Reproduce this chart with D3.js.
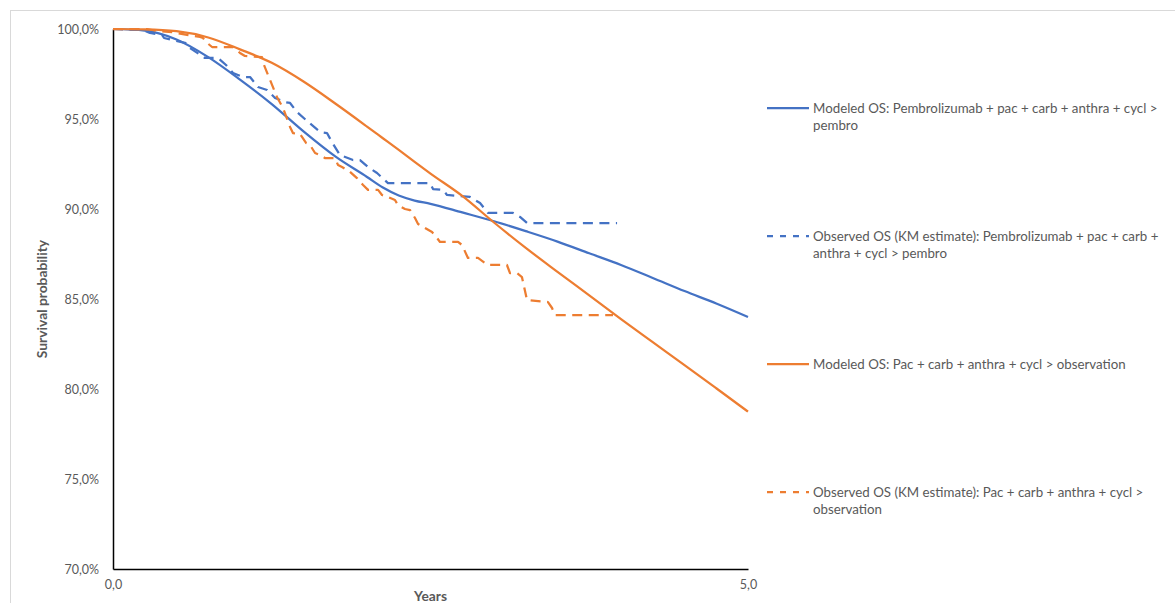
<!DOCTYPE html>
<html>
<head>
<meta charset="utf-8">
<script src="https://cdn.jsdelivr.net/npm/d3@7"></script>
<style>
  html, body { margin: 0; padding: 0; background: #ffffff; }
  svg { display: block; }
  text { font-family: Lato, "Noto Sans", sans-serif; fill: #595959; }
</style>
</head>
<body>
<svg id="chart" width="1175" height="603"></svg>
<script>
// Time axis (years) shared by the modeled curves
const modelYears = [0, 0.25, 0.5, 0.75, 1.0, 1.25, 1.5, 1.75, 2.0, 2.125, 2.25, 2.375, 2.5, 2.75,
  3.0, 3.25, 3.5, 3.75, 4.0, 4.25, 4.5, 4.75, 5.0];

// Modeled OS, pembrolizumab arm (%)
const modeledPembro = [100, 99.91, 99.42, 98.44, 97.19, 95.83, 94.31, 92.92, 91.78, 91.19, 90.75, 90.47,
  90.29, 89.81, 89.32, 88.77, 88.19, 87.54, 86.89, 86.17, 85.44, 84.75, 84.0];

// Modeled OS, observation arm (%)
const modeledObs = [100, 99.98, 99.88, 99.53, 98.87, 98.12, 97.08, 95.86, 94.58, 93.93, 93.28, 92.62,
  91.97, 90.73, 89.25, 87.84, 86.51, 85.2, 83.88, 82.6, 81.33, 80.04, 78.74];

// Observed OS (KM estimate), pembrolizumab arm
const kmPembroYears = [0, 0.236, 0.291, 0.386, 0.402, 0.575, 0.606, 0.724, 0.827, 0.890, 0.945, 1.024,
  1.079, 1.142, 1.213, 1.276, 1.354, 1.394, 1.449, 1.528, 1.630, 1.685, 1.724, 1.787, 1.890, 1.945,
  2.008, 2.079, 2.165, 2.496, 2.520, 2.598, 2.630, 2.811, 2.890, 2.953, 3.150, 3.205, 3.260, 3.969];
const kmPembro = [100, 99.94, 99.78, 99.67, 99.5, 99.22, 98.94, 98.39, 98.39, 98.0, 97.56, 97.33,
  97.33, 96.78, 96.61, 96.17, 95.94, 95.89, 95.39, 94.89, 94.28, 94.22, 93.72, 93.0, 92.72, 92.72,
  92.33, 92.0, 91.44, 91.44, 91.11, 91.06, 90.78, 90.67, 90.33, 89.78, 89.78, 89.56, 89.22, 89.22];

// Observed OS (KM estimate), observation arm
const kmObsYears = [0, 0.268, 0.346, 0.465, 0.583, 0.685, 0.709, 0.732, 0.780, 0.945, 1.000, 1.039,
  1.173, 1.189, 1.291, 1.339, 1.394, 1.417, 1.472, 1.520, 1.551, 1.591, 1.630, 1.669, 1.748, 1.772,
  1.803, 1.866, 1.921, 1.969, 2.008, 2.087, 2.118, 2.165, 2.220, 2.244, 2.299, 2.339, 2.378, 2.402,
  2.457, 2.512, 2.551, 2.575, 2.717, 2.748, 2.795, 2.874, 2.929, 2.953, 3.102, 3.126, 3.181, 3.220,
  3.260, 3.425, 3.457, 3.480, 3.937];
const kmObs = [100, 100, 99.89, 99.83, 99.67, 99.56, 99.5, 99.28, 99.0, 99.0, 98.67, 98.5,
  98.44, 98.0, 96.22, 95.61, 94.56, 94.22, 94.17, 93.67, 93.56, 93.11, 93.0, 92.83, 92.83, 92.44,
  92.33, 92.06, 91.72, 91.33, 91.06, 91.06, 90.78, 90.67, 90.5, 90.22, 90.0, 89.94, 89.5, 89.17,
  88.94, 88.72, 88.39, 88.17, 88.17, 88.0, 87.28, 87.28, 87.0, 86.89, 86.89, 86.44, 86.44, 86.22,
  84.94, 84.83, 84.5, 84.11, 84.11];

// Axis ticks
const yTicks = [70, 75, 80, 85, 90, 95, 100];
const xTicks = [0, 5];

// Legend entries (wrapped as laid out in the legend box)
const legendLines = [
  ["Modeled OS: Pembrolizumab + pac + carb + anthra + cycl >", "pembro"],
  ["Observed OS (KM estimate): Pembrolizumab + pac + carb +", "anthra + cycl > pembro"],
  ["Modeled OS: Pac + carb + anthra + cycl > observation"],
  ["Observed OS (KM estimate): Pac + carb + anthra + cycl >", "observation"]
];

const BLUE = "#4472C4";
const ORANGE = "#ED7D31";

const series = [
  { xs: modelYears, ys: modeledPembro, color: BLUE, dashed: false },
  { xs: kmPembroYears, ys: kmPembro, color: BLUE, dashed: true },
  { xs: modelYears, ys: modeledObs, color: ORANGE, dashed: false },
  { xs: kmObsYears, ys: kmObs, color: ORANGE, dashed: true }
];

const svg = d3.select("#chart");

// Chart area border
svg.append("rect")
  .attr("x", 10.5).attr("y", 10.5)
  .attr("width", 1200).attr("height", 700)
  .attr("fill", "none").attr("stroke", "#d9d9d9").attr("stroke-width", 1);

const x = d3.scaleLinear().domain([0, 5]).range([113, 748]);
const y = d3.scaleLinear().domain([70, 100]).range([569, 29]);

const fmtPct = v => d3.format(".1f")(v).replace(".", ",") + "%";
const fmtYr = v => d3.format(".1f")(v).replace(".", ",");

// Y axis
const yAxis = svg.append("g")
  .attr("transform", `translate(${x(0)},0)`)
  .call(d3.axisLeft(y).tickValues(yTicks).tickSize(0).tickPadding(14).tickFormat(fmtPct));
yAxis.select(".domain").attr("stroke", "#000").attr("stroke-width", 1.5);
yAxis.selectAll("text")
  .style("font-family", "Lato, 'Noto Sans', sans-serif")
  .style("font-size", "12.5px").attr("fill", "#595959");

// X axis
const xAxis = svg.append("g")
  .attr("transform", `translate(0,${y(70)})`)
  .call(d3.axisBottom(x).tickValues(xTicks).tickSize(0).tickPadding(11).tickFormat(fmtYr));
xAxis.select(".domain").attr("stroke", "#000").attr("stroke-width", 1.5);
xAxis.selectAll("text")
  .style("font-family", "Lato, 'Noto Sans', sans-serif")
  .style("font-size", "12.5px").attr("fill", "#595959");

// Axis titles
svg.append("text")
  .attr("transform", `translate(47,${(y(70) + y(100)) / 2}) rotate(-90)`)
  .attr("text-anchor", "middle")
  .style("font-size", "13.8px").style("font-weight", "bold")
  .text("Survival probability");

svg.append("text")
  .attr("x", (x(0) + x(5)) / 2).attr("y", 601)
  .attr("text-anchor", "middle")
  .style("font-size", "13.8px").style("font-weight", "bold")
  .text("Years");

// Curves
const line = d3.line().x(d => x(d[0])).y(d => y(d[1]));
const lineSmooth = d3.line().x(d => x(d[0])).y(d => y(d[1])).curve(d3.curveMonotoneX);

series.forEach(s => {
  const pts = s.xs.map((t, i) => [t, s.ys[i]]);
  svg.append("path")
    .attr("d", s.dashed ? line(pts) : lineSmooth(pts))
    .attr("fill", "none")
    .attr("stroke", s.color)
    .attr("stroke-width", 2.25)
    .attr("stroke-linejoin", "round")
    .attr("stroke-dasharray", s.dashed ? "10,6.5" : null);
});

// Legend
const legendY = [108, 236, 364, 492];
const legend = svg.append("g");
series.forEach((s, i) => {
  const g = legend.append("g").attr("transform", `translate(0,${legendY[i]})`);
  g.append("line")
    .attr("x1", 767).attr("x2", 809).attr("y1", 0).attr("y2", 0)
    .attr("stroke", s.color).attr("stroke-width", 2.25)
    .attr("stroke-dasharray", s.dashed ? "6,7" : null);
  legendLines[i].forEach((txt, j) => {
    g.append("text")
      .attr("x", 813).attr("y", j * 17.8)
      .attr("dy", "0.35em")
      .style("font-size", "13.3px")
      .text(txt);
  });
});
</script>
</body>
</html>
